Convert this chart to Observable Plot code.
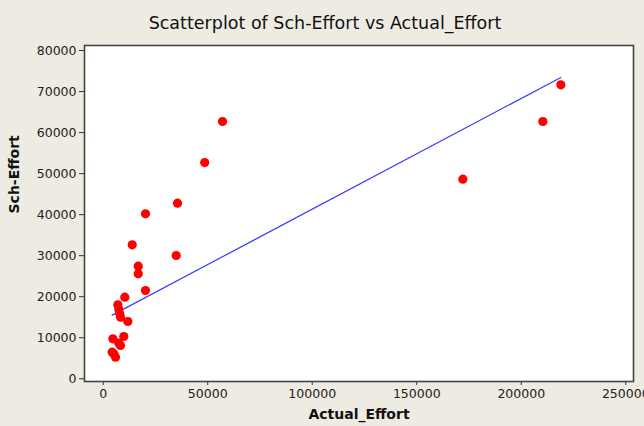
<!DOCTYPE html>
<html>
<head>
<meta charset="utf-8">
<script src="https://cdn.jsdelivr.net/npm/d3@7"></script>
<script src="https://cdn.jsdelivr.net/npm/@observablehq/plot@0.6"></script>
<style>
  html, body { margin: 0; padding: 0; background: #EEEBE2; }
</style>
</head>
<body>
<div id="chart"></div>
<script>
const chartTitle = "Scatterplot of Sch-Effort vs Actual_Effort";
const xTitle = "Actual_Effort";
const yTitle = "Sch-Effort";

const actualEffort = [35550, 20240, 13880, 16750, 16750, 34930, 20240, 10340, 6990, 7470,
  7950, 8280, 11770, 9860, 4600, 7470, 8280, 4300, 5070, 5890,
  57080, 48560, 172060, 210330, 218950];
const schEffort = [42790, 40200, 32650, 27440, 25580, 30040, 21520, 19890, 18030, 16880,
  15830, 15010, 13960, 10310, 9750, 8680, 8110, 6490, 6090, 5270,
  62700, 52680, 48640, 62700, 71640];

// fitted regression line
const fitIntercept = 14350;
const fitSlope = 0.2698;

const xTicks = [0, 50000, 100000, 150000, 200000, 250000];
const yTicks = [0, 10000, 20000, 30000, 40000, 50000, 60000, 70000, 80000];

const points = actualEffort.map((x, i) => ({x, y: schEffort[i]}));
const fitX = d3.extent(actualEffort);

const font = "'DejaVu Sans', Verdana, sans-serif";

const plot = Plot.plot({
  width: 644,
  height: 426,
  marginLeft: 84,
  marginRight: 11,
  marginTop: 45,
  marginBottom: 45,
  style: {background: "#EEEBE2", fontFamily: font, fontSize: "12.5px", color: "#222"},
  x: {domain: [-8950, 253700], ticks: xTicks, tickFormat: d => String(d), tickSize: 4, label: null},
  y: {domain: [-660, 81220], ticks: yTicks, tickFormat: d => String(d), tickSize: 5, label: null},
  marks: [
    Plot.frame({fill: "white", stroke: null}),
    Plot.axisX({ticks: xTicks, tickFormat: d => String(d), tickSize: 4, tickPadding: 4, label: null, fontSize: 12.5, stroke: "#333"}),
    Plot.axisY({ticks: yTicks, tickFormat: d => String(d), tickSize: 5, tickPadding: 3, label: null, fontSize: 12.5, stroke: "#333"}),
    Plot.line(fitX, {x: d => d, y: d => fitIntercept + fitSlope * d, stroke: "#3b3bff", strokeWidth: 1.2}),
    Plot.dot(points, {x: "x", y: "y", r: 4.6, fill: "#ff0000", stroke: null}),
    Plot.frame({stroke: "#444", strokeWidth: 1.6}),
    Plot.text([chartTitle], {frameAnchor: "top", dy: -29, dx: -34, fontSize: 17.5, fill: "#111", text: d => d}),
    Plot.text([xTitle], {frameAnchor: "bottom", dy: 37, fontSize: 14, fontWeight: "bold", fill: "#111", text: d => d}),
    Plot.text([yTitle], {frameAnchor: "left", dx: -70, rotate: -90, fontSize: 14, fontWeight: "bold", fill: "#111", text: d => d})
  ]
});
document.getElementById("chart").appendChild(plot);
</script>
</body>
</html>
